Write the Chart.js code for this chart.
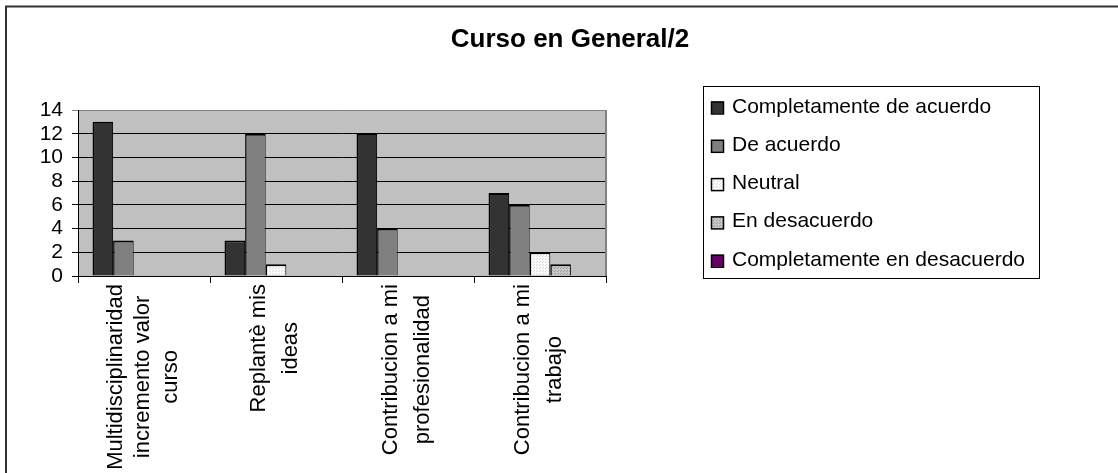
<!DOCTYPE html>
<html><head><meta charset="utf-8">
<script src="https://cdn.jsdelivr.net/npm/chart.js@4/dist/chart.umd.min.js"></script>
<style>html,body{margin:0;padding:0;background:#fff;overflow:hidden}canvas{display:block}</style>
</head><body>
<canvas id="c" width="1118" height="473"></canvas>
<script>
const chartTitle = 'Curso en General/2';
const categories = [
  ['Multidisciplinaridad', 'incremento valor', 'curso'],
  ['Replantè mis', 'ideas'],
  ['Contribucion a mi', 'profesionalidad'],
  ['Contribucion a mi', 'trabajo']
];
const seriesNames = ['Completamente de acuerdo', 'De acuerdo', 'Neutral', 'En desacuerdo', 'Completamente en desacuerdo'];
const completamenteDeAcuerdo = [13, 3, 12, 7];
const deAcuerdo = [3, 12, 4, 6];
const neutral = [0, 1, 0, 2];
const enDesacuerdo = [0, 0, 0, 1];
const completamenteEnDesacuerdo = [0, 0, 0, 0];
const yTicks = [0, 2, 4, 6, 8, 10, 12, 14];

const FONT = '"Liberation Sans", Arial, Helvetica, sans-serif';
const canvas = document.getElementById('c');
const ctx = canvas.getContext('2d');

function dotPattern(bg, dot) {
  const c = document.createElement('canvas');
  c.width = 3; c.height = 3;
  const x = c.getContext('2d');
  x.fillStyle = bg; x.fillRect(0, 0, 3, 3);
  x.fillStyle = dot; x.fillRect(0, 0, 1, 1); x.fillRect(2, 1, 1, 1);
  return ctx.createPattern(c, 'repeat');
}
const fills = [
  '#333333',
  '#808080',
  dotPattern('#fbfbfb', '#d8d8d8'),
  dotPattern('#c8c8c8', '#9a9a9a'),
  '#660066'
];
const values = [completamenteDeAcuerdo, deAcuerdo, neutral, enDesacuerdo, completamenteEnDesacuerdo];

const decor = {
  id: 'decor',
  beforeDraw(chart) {
    const c = chart.ctx, a = chart.chartArea;
    c.save();
    c.fillStyle = '#fff';
    c.fillRect(0, 0, chart.width, chart.height);
    c.fillStyle = '#c0c0c0';
    c.fillRect(a.left, a.top, a.right - a.left, a.bottom - a.top);
    c.strokeStyle = '#333';
    c.lineWidth = 2;
    c.beginPath();
    c.moveTo(6, chart.height + 5);
    c.lineTo(6, 6.5);
    c.lineTo(chart.width + 5, 6.5);
    c.stroke();
    c.restore();
  },
  beforeDatasetsDraw(chart) {
    const c = chart.ctx, a = chart.chartArea;
    c.save();
    c.strokeStyle = '#808080';
    c.lineWidth = 2;
    c.beginPath();
    c.moveTo(a.right, a.top);
    c.lineTo(a.right, a.bottom);
    c.stroke();
    c.restore();
  },
  afterDraw(chart) {
    const c = chart.ctx;
    const xs = chart.scales.x;
    c.save();
    c.fillStyle = '#000';
    c.font = 'bold 26px ' + FONT;
    c.textAlign = 'center';
    c.textBaseline = 'middle';
    c.fillText(chartTitle, 570, 40);
    // x category labels: rotated, block top at the axis, lines centred in the block
    c.font = '22px ' + FONT;
    const top = chart.chartArea.bottom + 8;
    categories.forEach((lines, i) => {
      const x = xs.getPixelForValue(i);
      const gap = lines.length > 2 ? 27.5 : 31.5;
      const W = Math.max(...lines.map(l => c.measureText(l).width));
      c.save();
      c.translate(x, top);
      c.rotate(-Math.PI / 2);
      c.textAlign = 'center';
      c.textBaseline = 'alphabetic';
      lines.forEach((l, j) => {
        c.fillText(l, -W / 2, 5 + (j - (lines.length - 1) / 2) * gap);
      });
      c.restore();
    });
    // legend
    c.font = '21px ' + FONT;
    c.strokeStyle = '#000';
    c.lineWidth = 1;
    c.strokeRect(703.5, 86.5, 336, 192);
    c.textAlign = 'left';
    c.textBaseline = 'alphabetic';
    chart.data.datasets.forEach((ds, k) => {
      const base = 112.5 + k * 38.3;
      c.fillStyle = ds.backgroundColor;
      c.fillRect(711, base - 11, 12, 12);
      c.strokeStyle = '#000';
      c.lineWidth = 1.5;
      c.strokeRect(711.5, base - 10.5, 12, 12);
      c.fillStyle = '#000';
      c.fillText(ds.label, 732, base);
    });
    c.restore();
  }
};

new Chart(canvas, {
  type: 'bar',
  data: {
    labels: categories.map(l => l.join(' ')),
    datasets: seriesNames.map((name, k) => ({
      label: name,
      data: values[k],
      backgroundColor: fills[k],
      borderColor: '#000',
      borderWidth: { top: 2, left: 1.5, right: 1, bottom: 0 },
      borderSkipped: false,
      categoryPercentage: 0.78,
      barPercentage: 1
    }))
  },
  options: {
    responsive: false,
    animation: false,
    events: [],
    layout: { padding: { top: 110, left: 0, right: 512, bottom: 0 } },
    plugins: { legend: { display: false }, title: { display: false }, tooltip: { enabled: false } },
    scales: {
      x: {
        offset: true,
        ticks: { display: false },
        grid: { offset: true, drawOnChartArea: false, drawTicks: true, tickLength: 7, color: '#000', lineWidth: 1 },
        border: { display: true, color: '#000', width: 1 },
        afterFit(s) { s.height = 197; }
      },
      y: {
        min: 0, max: 14,
        afterBuildTicks(s) { s.ticks = yTicks.map(v => ({ value: v })); },
        ticks: { color: '#000', font: { family: FONT, size: 21 }, padding: 9, autoSkip: false },
        grid: {
          color: c => (c.tick && c.tick.value === 14 ? '#808080' : '#000'),
          lineWidth: 1, drawTicks: true, tickLength: 6
        },
        border: { display: true, color: '#000', width: 1 },
        afterFit(s) { s.width = 78; }
      }
    }
  },
  plugins: [decor]
});
</script>
</body></html>
